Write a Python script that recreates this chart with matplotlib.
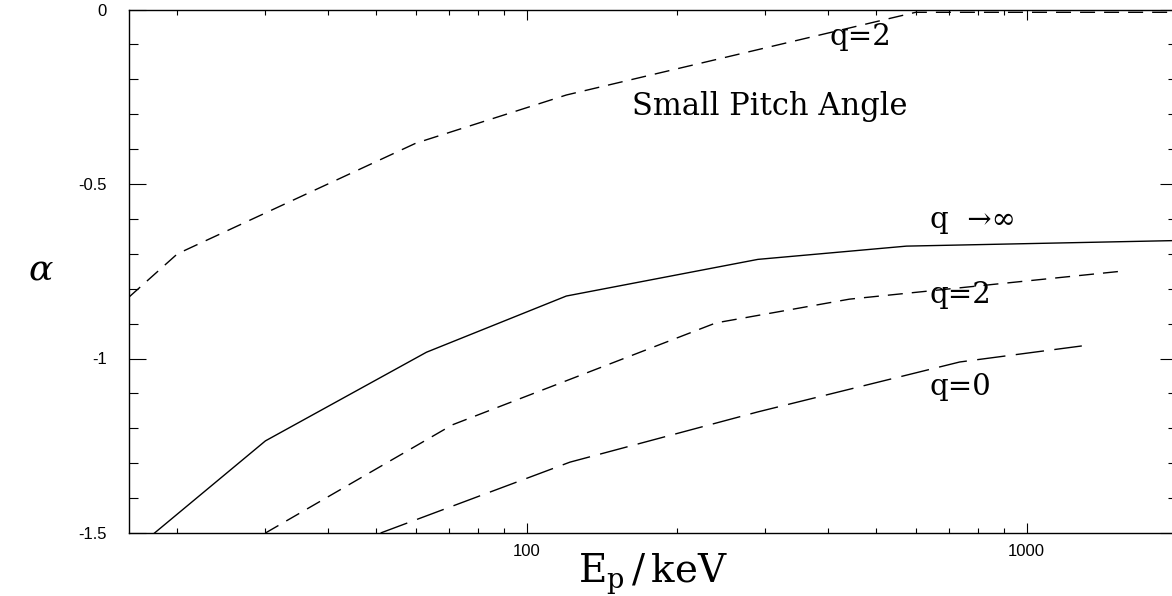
import matplotlib
matplotlib.use("Agg")
import matplotlib.pyplot as plt
from matplotlib.ticker import LogLocator, NullFormatter, FixedLocator, FixedFormatter

# alpha vs proton energy, small pitch angle case
E_inf = [18, 30, 63, 120, 290, 575, 2000]
alpha_inf = [-1.5, -1.236, -0.982, -0.821, -0.716, -0.678, -0.662]

E_q2 = [30, 71, 239, 442, 1570]
alpha_q2 = [-1.5, -1.19, -0.898, -0.83, -0.749]

E_q0 = [51, 122, 290, 735, 1290]
alpha_q0 = [-1.5, -1.297, -1.153, -1.01, -0.964]

E_top = [16, 20, 60, 120, 600, 2000]
alpha_top = [-0.824, -0.70, -0.383, -0.245, -0.008, -0.008]

x_ticks = [100, 1000]
x_ticklabels = ["100", "1000"]
y_ticks = [0, -0.5, -1, -1.5]
y_ticklabels = ["0", "-0.5", "-1", "-1.5"]

plt.rcParams["lines.scale_dashes"] = False
plt.rcParams["mathtext.fontset"] = "dejavuserif"

W, H = 1172, 596
fig = plt.figure(figsize=(W / 100, H / 100), dpi=100)
ax = fig.add_axes([129 / W, (H - 533) / H, (1177 - 129) / W, (533 - 9.5) / H])

short = (10.8, 6.5)
longd = (20.5, 7.5)
ax.plot(E_inf, alpha_inf, color="black", lw=1.0)
ax.plot(E_q2, alpha_q2, color="black", lw=1.0, dashes=short)
ax.plot(E_q0, alpha_q0, color="black", lw=1.0, dashes=longd)
ax.plot(E_top, alpha_top, color="black", lw=1.0, dashes=short)

ax.set_xscale("log")
ax.set_xlim(16, 2000)
ax.set_ylim(-1.5, 0)

ax.xaxis.set_major_locator(FixedLocator(x_ticks))
ax.xaxis.set_major_formatter(FixedFormatter(x_ticklabels))
ax.xaxis.set_minor_locator(LogLocator(base=10, subs=range(2, 10)))
ax.xaxis.set_minor_formatter(NullFormatter())
ax.yaxis.set_major_locator(FixedLocator(y_ticks))
ax.yaxis.set_major_formatter(FixedFormatter(y_ticklabels))
ax.yaxis.set_minor_locator(FixedLocator([-0.1 * i for i in range(16)]))

ax.tick_params(which="both", direction="in", top=True, right=True,
               color="black", width=0.8)
ax.tick_params(axis="x", which="major", length=7.2, pad=8,
               labelsize=12, labelfontfamily="Liberation Sans")
ax.tick_params(axis="x", which="minor", length=3.8)
ax.tick_params(axis="y", which="major", length=12.2, pad=16,
               labelsize=12, labelfontfamily="Liberation Sans")
ax.tick_params(axis="y", which="minor", length=6.5)
for s in ax.spines.values():
    s.set_linewidth(1.0)

serif = "DejaVu Serif"
ax.text(403, -0.102, "q=2", family=serif, fontsize=21, va="baseline")
ax.text(307, -0.302, "Small Pitch Angle", family=serif, fontsize=22,
        ha="center", va="baseline")
ax.text(640, -0.626, "q  →∞", family=serif, fontsize=21, va="baseline")
ax.text(640, -0.841, "q=2", family=serif, fontsize=21, va="baseline")
ax.text(640, -1.105, "q=0", family=serif, fontsize=21, va="baseline")

fig.text(41 / W, 1 - 270 / H, r"$\alpha$", fontsize=26, ha="center", va="center")
fig.text(653 / W, 1 - 583 / H, r"$\mathrm{E_p\,/\,keV}$", fontsize=28,
         ha="center", va="baseline")

fig.savefig("out.png", dpi=100)
